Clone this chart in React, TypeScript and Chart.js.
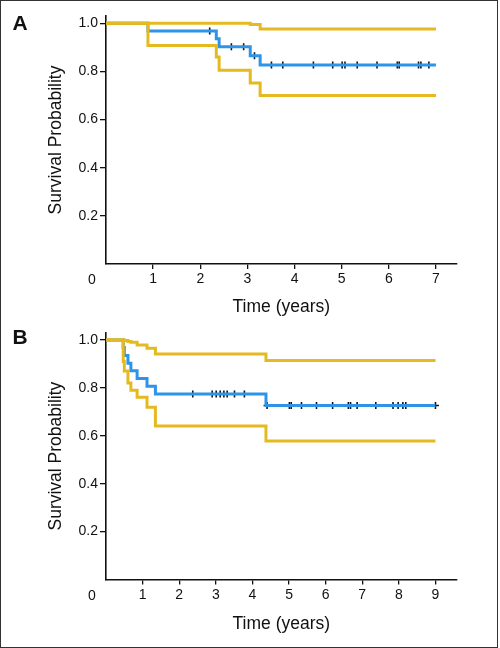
import React, { useEffect, useRef } from 'react';
import { Chart, registerables } from 'chart.js';

Chart.register(...registerables);

// ---------- Panel A data ----------
const aEventTimes = [0, 0.89, 2.34, 2.4, 3.06, 3.27, 7.0];
const aSurvival = [1, 0.968, 0.935, 0.902, 0.865, 0.827, 0.827];
const aUpper = [1, 1, 1, 1, 0.995, 0.976, 0.976];
const aLower = [1, 0.907, 0.86, 0.805, 0.752, 0.7, 0.7];
const aCensored = [2.2, 2.66, 2.92, 3.15, 3.51, 3.75, 4.4, 4.81, 5.01, 5.07, 5.33, 5.75, 6.18, 6.22, 6.63, 6.68, 6.85];
const aXTicks = [1, 2, 3, 4, 5, 6, 7];
const aXMax = 7.44;

// ---------- Panel B data ----------
const bEventTimes = [0, 0.47, 0.5, 0.6, 0.68, 0.85, 1.12, 1.35, 4.37, 9.0];
const bSurvival = [1, 0.968, 0.935, 0.903, 0.871, 0.839, 0.806, 0.774, 0.726, 0.726];
const bUpper = [1, 1, 0.997, 0.993, 0.99, 0.979, 0.965, 0.941, 0.914, 0.914];
const bLower = [1, 0.91, 0.87, 0.82, 0.79, 0.761, 0.719, 0.641, 0.578, 0.578];
const bCensored = [2.37, 2.9, 3.01, 3.12, 3.22, 3.31, 3.51, 3.78, 4.4, 5.01, 5.06, 5.34, 5.75, 6.19, 6.62, 6.68, 6.86, 7.37, 7.84, 7.98, 8.11, 8.19, 9.0];
const bXTicks = [1, 2, 3, 4, 5, 6, 7, 8, 9];
const bXMax = 9.58;

const yTicks = [0.2, 0.4, 0.6, 0.8, 1.0];
const yMax = 1.03;

const xTitle = 'Time (years)';
const yTitle = 'Survival Probability';

const BLUE = 'rgb(45,148,232)';
const YELLOW = 'rgb(228,186,32)';
const INK = '#111';
const TICK_FONT = { family: '"Liberation Sans", Arial, sans-serif', size: 14 };
const TITLE_FONT = { family: '"Liberation Sans", Arial, sans-serif', size: 17.5 };

function stepValue(times: number[], values: number[], t: number) {
  let v = values[0];
  for (let i = 0; i < times.length; i++) {
    if (times[i] <= t) v = values[i];
  }
  return v;
}

function pts(times: number[], values: number[]) {
  return times.map((t, i) => ({ x: t, y: values[i] }));
}

const cornerText = {
  id: 'cornerText',
  afterDraw(chart: any, _args: any, opts: any) {
    const ctx = chart.ctx;
    ctx.save();
    ctx.fillStyle = INK;
    ctx.font = 'bold 21px "Liberation Sans", Arial, sans-serif';
    ctx.textAlign = 'left';
    ctx.textBaseline = 'alphabetic';
    ctx.fillText(opts.letter, 12.5, opts.letterBaseline);
    ctx.font = '14px "Liberation Sans", Arial, sans-serif';
    ctx.textAlign = 'center';
    ctx.fillText('0', 92, opts.zeroBaseline);
    ctx.restore();
  },
};

type PanelProps = {
  times: number[];
  surv: number[];
  upper: number[];
  lower: number[];
  censored: number[];
  xTicks: number[];
  xMax: number;
  letter: string;
  height: number;
  areaTop: number;
  xAxisHeight: number;
  xTitlePadBottom: number;
  letterBaseline: number;
  zeroBaseline: number;
  top: number;
};

function Panel(p: PanelProps) {
  const ref = useRef<HTMLCanvasElement | null>(null);
  useEffect(() => {
    if (!ref.current) return;
    const stepLine = (data: any, color: string) => ({
      data,
      borderColor: color,
      backgroundColor: color,
      borderWidth: 3,
      stepped: 'before',
      pointRadius: 0,
      fill: false,
      borderJoinStyle: 'miter',
      borderCapStyle: 'butt',
    });
    const chart = new Chart(ref.current, {
      type: 'line',
      data: {
        datasets: [
          stepLine(pts(p.times, p.upper), YELLOW),
          stepLine(pts(p.times, p.lower), YELLOW),
          stepLine(pts(p.times, p.surv), BLUE),
          {
            data: p.censored.map((t) => ({ x: t, y: stepValue(p.times, p.surv, t) })),
            showLine: false,
            pointStyle: 'cross',
            pointRadius: 3.5,
            pointBorderWidth: 1.6,
            pointBorderColor: INK,
            pointBackgroundColor: INK,
            borderColor: INK,
          },
        ] as any,
      },
      options: {
        responsive: false,
        animation: false,
        devicePixelRatio: 1,
        layout: { padding: { left: 0, top: p.areaTop, right: 41.3, bottom: 0 } },
        plugins: {
          legend: { display: false },
          tooltip: { enabled: false },
          cornerText: { letter: p.letter, letterBaseline: p.letterBaseline, zeroBaseline: p.zeroBaseline },
        } as any,
        scales: {
          x: {
            type: 'linear',
            min: 0,
            max: p.xMax,
            afterBuildTicks: (s: any) => {
              s.ticks = p.xTicks.map((v) => ({ value: v }));
            },
            afterFit: (s: any) => {
              s.height = p.xAxisHeight;
            },
            ticks: { font: TICK_FONT, color: INK, padding: 2, maxRotation: 0, autoSkip: false, callback: (v: any) => String(v) },
            grid: { display: true, drawOnChartArea: false, drawTicks: true, tickLength: 5, color: INK, lineWidth: 1.3 },
            border: { display: true, color: INK, width: 1.6 },
            title: { display: true, text: xTitle, font: TITLE_FONT, color: INK, padding: { top: 0, bottom: p.xTitlePadBottom } },
          },
          y: {
            type: 'linear',
            min: 0,
            max: yMax,
            afterBuildTicks: (s: any) => {
              s.ticks = yTicks.map((v) => ({ value: v }));
            },
            afterFit: (s: any) => {
              s.width = 106;
            },
            ticks: { font: TICK_FONT, color: INK, padding: 2, callback: (v: any) => Number(v).toFixed(1) },
            grid: { display: true, drawOnChartArea: false, drawTicks: true, tickLength: 6, color: INK, lineWidth: 1.3 },
            border: { display: true, color: INK, width: 1.6 },
            title: { display: true, text: yTitle, font: TITLE_FONT, color: INK, padding: { top: 45.5, bottom: 0 } },
          },
        },
      } as any,
      plugins: [cornerText as any],
    });
    return () => chart.destroy();
  }, []);
  return (
    <canvas
      ref={ref}
      width={498}
      height={p.height}
      style={{ position: 'absolute', left: 0, top: p.top, width: 498, height: p.height }}
    />
  );
}

export default function App() {
  return (
    <div style={{ position: 'absolute', left: 0, top: 0, width: 498, height: 648, background: '#fff' }}>
      <Panel
        times={aEventTimes}
        surv={aSurvival}
        upper={aUpper}
        lower={aLower}
        censored={aCensored}
        xTicks={aXTicks}
        xMax={aXMax}
        letter="A"
        height={320}
        top={0}
        areaTop={16}
        xAxisHeight={56}
        xTitlePadBottom={2.5}
        letterBaseline={30}
        zeroBaseline={283.5}
      />
      <Panel
        times={bEventTimes}
        surv={bSurvival}
        upper={bUpper}
        lower={bLower}
        censored={bCensored}
        xTicks={bXTicks}
        xMax={bXMax}
        letter="B"
        height={328}
        top={320}
        areaTop={12.7}
        xAxisHeight={68.5}
        xTitlePadBottom={13.5}
        letterBaseline={24}
        zeroBaseline={280}
      />
      <div
        style={{
          position: 'absolute',
          left: 0,
          top: 0,
          width: 498,
          height: 648,
          boxSizing: 'border-box',
          border: '1px solid #333',
          pointerEvents: 'none',
        }}
      />
    </div>
  );
}
